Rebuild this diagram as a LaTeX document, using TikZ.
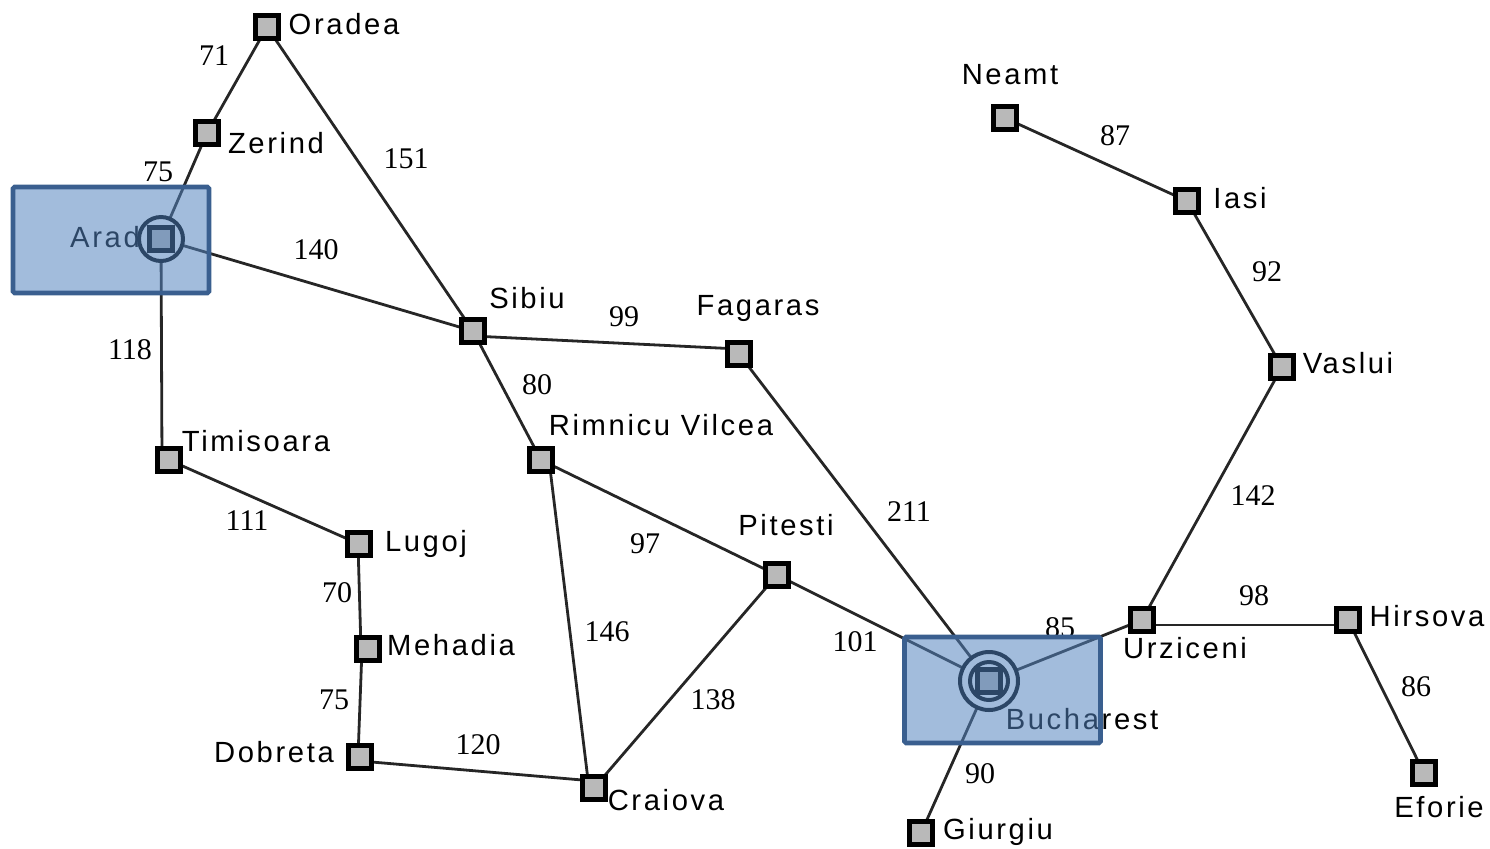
\documentclass[tikz,border=0pt]{standalone}
\usepackage{fontspec}
\setmainfont{Liberation Sans}
\newfontfamily\citefont[LetterSpace=9]{Liberation Sans}
\newfontfamily\numfont{Liberation Serif}
\usetikzlibrary{backgrounds}
\definecolor{roadcol}{HTML}{262626}
\definecolor{cityfill}{HTML}{B9B9B9}
\definecolor{boxfill}{RGB}{83,131,190}
\definecolor{boxline}{HTML}{3A5F8F}
\tikzset{
  x=0.5pt,y=-0.5pt,
  city/.style={draw=black,line width=2.6pt,fill=cityfill,minimum size=11.6pt,inner sep=0pt,outer sep=0pt,shape=rectangle},
  road/.style={draw=roadcol,line width=1.4pt},
  cityname/.style={font=\citefont\fontsize{14.6}{14.6}\selectfont,text=black,inner sep=0pt},
  dist/.style={font=\numfont\fontsize{15}{15}\selectfont,text=black,inner sep=0pt},
  ring/.style={draw=black,line width=2pt,fill=white,shape=circle,inner sep=0pt},
  hilite/.style={draw=boxline,line width=2.3pt,fill=boxfill,fill opacity=0.54,draw opacity=1,shape=rectangle,rounded corners=0.8pt,inner sep=0pt,outer sep=0pt},
}
\begin{document}
\begin{tikzpicture}
\useasboundingbox (0,0) rectangle (1490,848);
% city names under the rings
\node[cityname] (tAR) at (105,237) {Arad};
\node[cityname] (tBU) at (1082,719) {Bucharest};
% goal / start rings
\node[ring,minimum size=22pt] (rAR) at (161,239) {};
\node[ring,minimum size=29pt] (rBU2) at (989,681) {};
\node[ring,minimum size=19pt] (rBU1) at (989,681) {};
% cities
\node[city] (OR) at (267,27) {};
\node[city] (ZE) at (207,133) {};
\node[city] (AR) at (161,239) {};
\node[city] (SI) at (473,331) {};
\node[city] (FA) at (739,354) {};
\node[city] (RV) at (541,460) {};
\node[city] (TI) at (169,460) {};
\node[city] (LU) at (359,544) {};
\node[city] (ME) at (368,649) {};
\node[city] (DO) at (360,757) {};
\node[city] (CR) at (594,788) {};
\node[city] (PI) at (777,575) {};
\node[city] (BU) at (989,681) {};
\node[city] (GI) at (921,833) {};
\node[city] (UR) at (1142,620) {};
\node[city] (HI) at (1348,620) {};
\node[city] (EF) at (1424,773) {};
\node[city] (VA) at (1282,367) {};
\node[city] (IA) at (1187,201) {};
\node[city] (NE) at (1005,118) {};
% roads
\begin{pgfonlayer}{background}
\draw[road] (OR.center) -- (ZE.center);
\draw[road] (ZE.center) -- (AR.center);
\draw[road] (OR.center) -- (SI.center);
\draw[road] (AR.center) -- (SI.center);
\draw[road] (AR.center) -- ([xshift=-3.5pt]TI.center);
\draw[road] ([yshift=-2.5pt]SI.center) -- ([yshift=2.5pt]FA.center);
\draw[road] (SI.center) -- (RV.center);
\draw[road] (TI.center) -- (LU.center);
\draw[road] ([xshift=-0.5pt]LU.center) -- ([xshift=-3.5pt]ME.center);
\draw[road] ([xshift=-3pt]ME.center) -- ([xshift=-1pt]DO.center);
\draw[road] ([yshift=-2pt]DO.center) -- ([yshift=3.5pt]CR.center);
\draw[road] ([xshift=4pt]RV.center) -- ([xshift=-2.5pt]CR.center);
\draw[road] (RV.center) -- (PI.center);
\draw[road] (CR.center) -- (PI.center);
\draw[road] (PI.center) -- (BU.center);
\draw[road] (FA.center) -- (BU.center);
\draw[road] (BU.center) -- (GI.center);
\draw[road] (BU.center) -- (UR.center);
\draw[road] ([yshift=-2.5pt]UR.center) -- ([yshift=-2.5pt]HI.center);
\draw[road] (HI.center) -- (EF.center);
\draw[road] (UR.center) -- (VA.center);
\draw[road] (VA.center) -- (IA.center);
\draw[road] (IA.center) -- (NE.center);
\end{pgfonlayer}
% names
\node[cityname] (tOR) at (344,24) {Oradea};
\node[cityname] (tNE) at (1010,75) {Neamt};
\node[cityname] (tZE) at (276,143) {Zerind};
\node[cityname] (tIA) at (1240,198) {Iasi};
\node[cityname] (tVA) at (1348,363) {Vaslui};
\node[cityname] (tSI) at (527,298) {Sibiu};
\node[cityname] (tFA) at (758,308) {Fagaras};
\node[cityname] (tRV) at (661,425) {Rimnicu Vilcea};
\node[cityname] (tPI) at (786,525) {Pitesti};
\node[cityname] (tTI) at (256,441) {Timisoara};
\node[cityname] (tLU) at (426,544) {Lugoj};
\node[cityname] (tME) at (451,645) {Mehadia};
\node[cityname] (tDO) at (274,752) {Dobreta};
\node[cityname] (tCR) at (666,800) {Craiova};
\node[cityname] (tGI) at (998,832) {Giurgiu};
\node[cityname] (tUR) at (1185,648) {Urziceni};
\node[cityname] (tHI) at (1427,616) {Hirsova};
\node[cityname] (tEF) at (1439,807) {Eforie};
% distances
\node[dist] (d1) at (214,56) {71};
\node[dist] (d2) at (158,172) {75};
\node[dist] (d3) at (406,159) {151};
\node[dist] (d4) at (316,250) {140};
\node[dist] (d5) at (130,350) {118};
\node[dist] (d6) at (624,317) {99};
\node[dist] (d7) at (537,385) {80};
\node[dist] (d8) at (247,521) {111};
\node[dist] (d9) at (337,593) {70};
\node[dist] (d10) at (334,700) {75};
\node[dist] (d11) at (478,745) {120};
\node[dist] (d12) at (607,632) {146};
\node[dist] (d13) at (645,544) {97};
\node[dist] (d14) at (713,700) {138};
\node[dist] (d15) at (855,642) {101};
\node[dist] (d16) at (909,512) {211};
\node[dist] (d17) at (1060,628) {85};
\node[dist] (d18) at (980,774) {90};
\node[dist] (d19) at (1254,596) {98};
\node[dist] (d20) at (1416,687) {86};
\node[dist] (d21) at (1253,496) {142};
\node[dist] (d22) at (1267,272) {92};
\node[dist] (d23) at (1115,136) {87};
% highlight boxes
\node[hilite,minimum width=98pt,minimum height=53pt] (boxA) at (111,240) {};
\node[hilite,minimum width=98pt,minimum height=53pt] (boxB) at (1002.5,690) {};
\end{tikzpicture}
\end{document}
